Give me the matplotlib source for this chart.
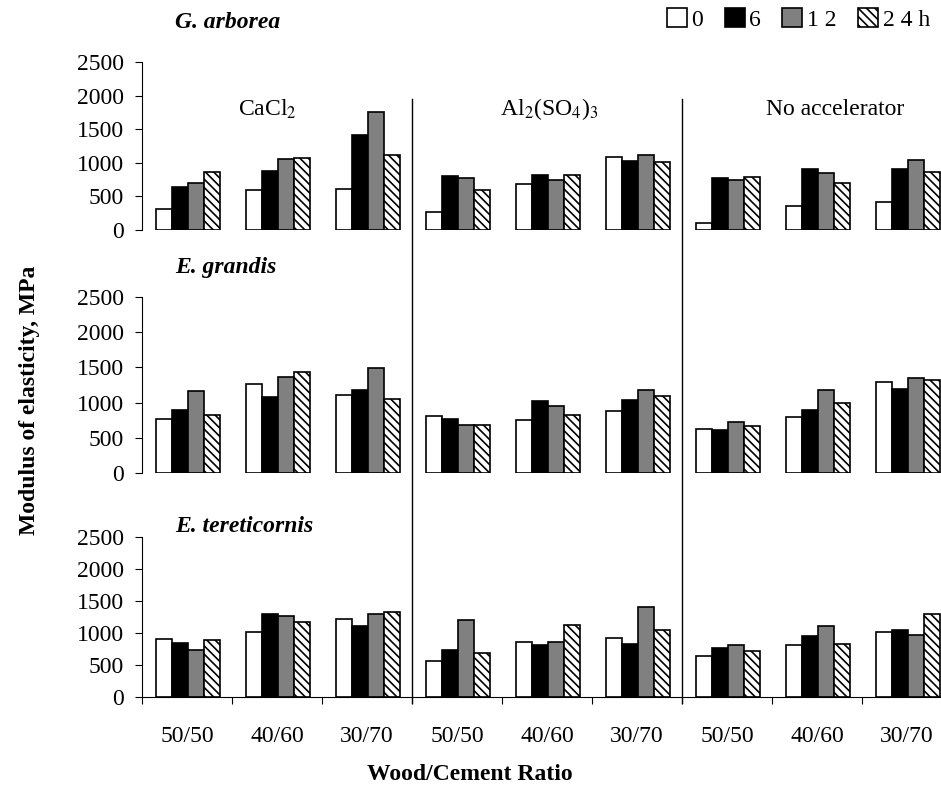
import numpy as np
import matplotlib
matplotlib.use("Agg")
import matplotlib.pyplot as plt
from matplotlib.lines import Line2D
from matplotlib.transforms import blended_transform_factory

plt.rcParams["font.family"] = ["Liberation Serif", "DejaVu Serif"]
plt.rcParams["mathtext.fontset"] = "stix"
plt.rcParams["hatch.linewidth"] = 1.2

ratios = ["50/50", "40/60", "30/70"]
accels = ["CaCl$_2$", "Al$_2$(SO$_4$)$_3$", "No accelerator"]
species = ["G. arborea", "E. grandis", "E. tereticornis"]
times = ["0", "6", "1 2", "2 4 h"]

# one row per curing time (0, 6, 12, 24 h); 9 columns = accelerator x ratio
arborea = [
    [310, 590, 610, 270, 680, 1080, 110, 360, 410],
    [640, 880, 1410, 800, 820, 1030, 780, 905, 905],
    [700, 1055, 1750, 775, 745, 1115, 745, 855, 1045],
    [865, 1075, 1120, 595, 820, 1015, 790, 705, 870],
]
grandis = [
    [770, 1265, 1110, 805, 750, 885, 630, 795, 1295],
    [890, 1080, 1175, 765, 1025, 1040, 610, 895, 1190],
    [1160, 1370, 1485, 675, 955, 1175, 725, 1185, 1350],
    [830, 1440, 1050, 680, 825, 1090, 665, 995, 1325],
]
tereticornis = [
    [905, 1015, 1220, 565, 855, 920, 635, 805, 1020],
    [840, 1290, 1110, 730, 815, 825, 765, 960, 1045],
    [735, 1265, 1300, 1210, 855, 1400, 815, 1115, 975],
    [895, 1165, 1335, 695, 1120, 1050, 725, 825, 1300],
]
data = [arborea, grandis, tereticornis]

W, H = 941, 790
fig = plt.figure(figsize=(W / 100, H / 100), dpi=100)

# panel boxes in pixels: (y of zero line, height)
boxes = [(230, 168), (473, 176), (697, 160)]
fs = 17

styles = [
    dict(color="white", edgecolor="black"),
    dict(color="black", edgecolor="black"),
    dict(color="#808080", edgecolor="black"),
    dict(color="white", edgecolor="black", hatch="\\\\\\\\"),
]

x = np.arange(9)
w = 0.18
axes = []
for i, (vals, (y0, h)) in enumerate(zip(data, boxes)):
    ax = fig.add_axes([142 / W, 1 - y0 / H, 810 / W, h / H])
    axes.append(ax)
    bars = []
    for k in range(4):
        b = ax.bar(x + (k - 1.5) * w + 0.01, vals[k], w, linewidth=1.2,
                   label=times[k], **styles[k])
        bars.append(b)
    ax.set_xlim(-0.5, 8.5)
    ax.set_ylim(0, 2500)
    ax.set_yticks(range(0, 2501, 500))
    ax.tick_params(axis="y", labelsize=fs, length=5, width=0.8, pad=8)
    for s in ["top", "right"]:
        ax.spines[s].set_visible(False)
    ax.spines["left"].set_linewidth(0.8)
    if i < 2:
        ax.spines["bottom"].set_visible(False)
        ax.set_xticks([])
    else:
        ax.spines["bottom"].set_linewidth(0.8)
        ax.set_xticks(x)
        ax.set_xticklabels(ratios * 3)
        ax.set_xticks(np.arange(-0.5, 9, 1), minor=True)
        ax.tick_params(axis="x", which="major", length=0, labelsize=fs, pad=21)
        ax.tick_params(axis="x", which="minor", length=5, width=0.8)
    fig.text(175 / W, 1 - [22, 267, 526][i] / H, species[i], fontsize=fs,
             fontweight="bold", fontstyle="italic", ha="left", va="center")

# accelerator labels in top panel
for xpos, lab in zip([0.89, 4.02, 7.2], accels):
    axes[0].text(xpos, 1800, lab, fontsize=fs, ha="center", va="center")

# separators between accelerator groups, running through all panels
tr = blended_transform_factory(axes[2].transData, fig.transFigure)
for xs in [2.5, 5.5]:
    fig.add_artist(Line2D([xs, xs], [1 - 99 / H, 1 - 703 / H], transform=tr,
                          color="black", linewidth=1.0))

fig.legend(handles=bars, loc="upper right", bbox_to_anchor=(930 / W, 1 - 8 / H),
           ncol=4, frameon=False, fontsize=fs, handlelength=0.85,
           handleheight=0.85, handletextpad=0.2, columnspacing=0.9,
           borderaxespad=0, borderpad=0)

fig.text(30 / W, 1 - 400 / H, "Modulus of elasticity, MPa", rotation=90,
         fontsize=fs, fontweight="bold", ha="center", va="center")
fig.text(470 / W, 1 - 775 / H, "Wood/Cement Ratio", fontsize=fs,
         fontweight="bold", ha="center", va="center")

fig.savefig("out.png", dpi=100)
